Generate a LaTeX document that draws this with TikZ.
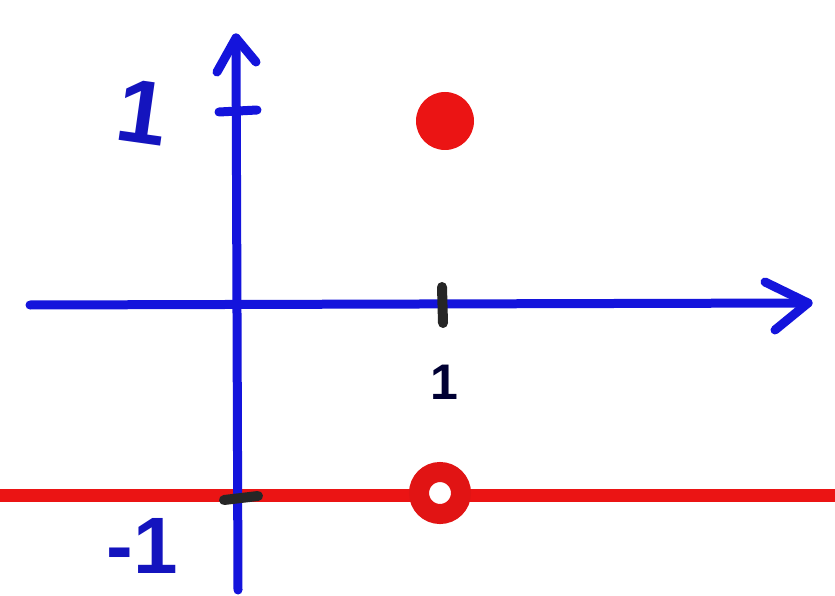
\documentclass[tikz,border=0pt]{standalone}
\usepackage{fontspec}
\setmainfont{Liberation Sans}
\begin{document}
\begin{tikzpicture}[x=1pt,y=-1pt,
  axis/.style={draw={rgb,255:red,20;green,20;blue,220},line width=9pt,line cap=round,line join=round},
  redline/.style={draw={rgb,255:red,235;green,20;blue,20},line width=13pt},
  tickmark/.style={draw=black!85,line width=10pt,line cap=round},
  lbl/.style={text={rgb,255:red,20;green,20;blue,190},font=\bfseries\fontsize{90}{90}\selectfont,inner sep=0pt}]
\useasboundingbox (0,0) rectangle (835,596);
\fill[white] (0,0) rectangle (835,596);
% coordinates
\coordinate (ybot) at (238,590);
\coordinate (ytop) at (236,38);
\coordinate (xl) at (30,305);
\coordinate (xr) at (808,303);
\coordinate (rl) at (0,495);
\coordinate (rr) at (835,495);
% red line
\draw[redline] (rl) -- (rr);
% axes
\draw[axis] (ybot) -- (ytop);
\draw[axis] (217,72) -- (ytop) -- (256,62);
\draw[axis] (219,112) -- (257,110);
\draw[axis] (xl) -- (xr);
\draw[axis] (765,282) -- (xr) -- (775,330);
% ticks
\draw[tickmark] (442,287) -- (443,323);
\draw[tickmark] (224,500) -- (258,496);
% labels
\node[lbl] (one) at (143,112) {\rotatebox{-8}{1}};
\node[lbl,text=black!80!blue,font=\bfseries\fontsize{50}{50}\selectfont] (onex) at (444,382) {1};
\node[lbl,font=\bfseries\fontsize{80}{80}\selectfont] (mone) at (142,546) {-1};
% red points
\node[circle,fill={rgb,255:red,235;green,20;blue,20},minimum size=58pt,inner sep=0pt] (dot) at (445,121) {};
\node[circle,draw={rgb,255:red,225;green,20;blue,20},line width=20pt,fill=white,minimum size=42pt,inner sep=0pt] (hole) at (440,493) {};
\end{tikzpicture}
\end{document}
